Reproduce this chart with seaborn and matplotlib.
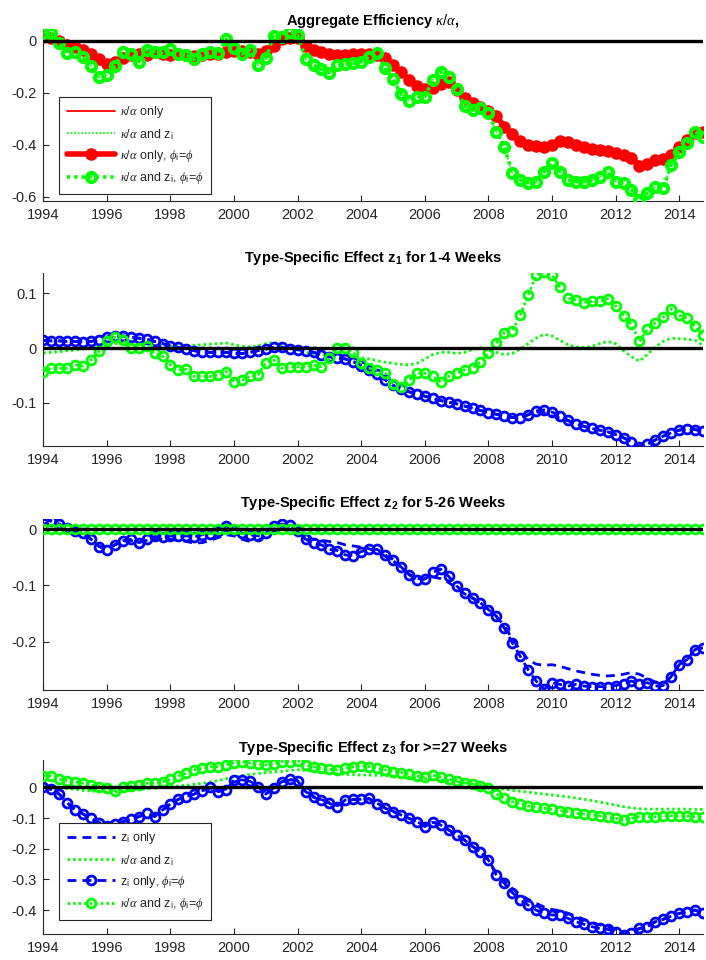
import numpy as np
import pandas as pd
import matplotlib
matplotlib.use("Agg")
import matplotlib.pyplot as plt
import seaborn as sns

sns.set_theme(style="white")
plt.rcParams["font.family"] = ["Liberation Sans", "DejaVu Sans"]
plt.rcParams["axes.unicode_minus"] = False
plt.rcParams["mathtext.fontset"] = "custom"
plt.rcParams["mathtext.it"] = "Liberation Serif:italic"
plt.rcParams["mathtext.rm"] = "Liberation Sans"
plt.rcParams["mathtext.bf"] = "Liberation Sans:bold"

# quarterly observations, 1994Q1 - 2014Q4
quarters = np.arange(1994, 2015, 0.25)

# ---- Aggregate efficiency kappa/alpha ----
agg_kappa_only = [
    0.015, 0.010, 0.000, -0.015,
    -0.025, -0.035, -0.050, -0.070,
    -0.088, -0.080, -0.065, -0.055,
    -0.050, -0.055, -0.045, -0.050,
    -0.055, -0.050, -0.055, -0.060,
    -0.055, -0.050, -0.050, -0.045,
    -0.040, -0.040, -0.045, -0.050,
    -0.040, -0.020, 0.005, 0.010,
    0.012, -0.020, -0.035, -0.045,
    -0.050, -0.055, -0.055, -0.050,
    -0.050, -0.050, -0.055, -0.065,
    -0.095, -0.120, -0.150, -0.175,
    -0.185, -0.180, -0.165, -0.160,
    -0.190, -0.220, -0.240, -0.255,
    -0.270, -0.290, -0.330, -0.360,
    -0.385, -0.400, -0.405, -0.410,
    -0.400, -0.385, -0.390, -0.400,
    -0.410, -0.415, -0.420, -0.425,
    -0.430, -0.440, -0.450, -0.480,
    -0.475, -0.460, -0.455, -0.440,
    -0.410, -0.380, -0.355, -0.350,
]
agg_kappa_z = [
    0.028, 0.028, -0.010, -0.046,
    -0.042, -0.064, -0.097, -0.141,
    -0.132, -0.097, -0.045, -0.051,
    -0.081, -0.036, -0.042, -0.045,
    -0.033, -0.051, -0.055, -0.072,
    -0.051, -0.042, -0.049, 0.005,
    -0.029, -0.051, -0.036, -0.094,
    -0.068, 0.018, 0.015, 0.035,
    0.022, -0.072, -0.094, -0.110,
    -0.123, -0.094, -0.090, -0.087,
    -0.081, -0.062, -0.049, -0.106,
    -0.149, -0.205, -0.231, -0.215,
    -0.215, -0.151, -0.119, -0.141,
    -0.187, -0.251, -0.267, -0.260,
    -0.279, -0.350, -0.408, -0.510,
    -0.536, -0.546, -0.542, -0.504,
    -0.472, -0.504, -0.536, -0.542,
    -0.542, -0.536, -0.523, -0.504,
    -0.542, -0.549, -0.574, -0.612,
    -0.587, -0.562, -0.568, -0.478,
    -0.427, -0.395, -0.350, -0.369,
]
agg_kappa_only_phi = agg_kappa_only
agg_kappa_z_phi = agg_kappa_z

# ---- z1: 1-4 weeks ----
z1_only = [
    0.014, 0.013, 0.013, 0.012,
    0.012, 0.011, 0.012, 0.015,
    0.020, 0.022, 0.022, 0.020,
    0.018, 0.016, 0.012, 0.008,
    0.004, 0.001, -0.002, -0.005,
    -0.007, -0.008, -0.008, -0.008,
    -0.010, -0.010, -0.008, -0.005,
    -0.002, 0.001, 0.001, -0.001,
    -0.003, -0.005, -0.008, -0.012,
    -0.016, -0.018, -0.020, -0.025,
    -0.032, -0.040, -0.048, -0.058,
    -0.068, -0.075, -0.080, -0.084,
    -0.088, -0.092, -0.096, -0.099,
    -0.102, -0.106, -0.110, -0.114,
    -0.118, -0.121, -0.124, -0.127,
    -0.127, -0.122, -0.117, -0.118,
    -0.124, -0.128, -0.133, -0.138,
    -0.143, -0.147, -0.150, -0.153,
    -0.158, -0.164, -0.171, -0.180,
    -0.176, -0.168, -0.161, -0.155,
    -0.150, -0.148, -0.149, -0.152,
]
z1_kappa_z = [
    -0.009, -0.008, -0.007, -0.005,
    -0.004, -0.002, 0.000, 0.003,
    0.006, 0.008, 0.009, 0.008,
    0.007, 0.006, 0.005, 0.004,
    0.003, 0.003, 0.004, 0.005,
    0.006, 0.007, 0.008, 0.009,
    0.006, 0.003, 0.002, 0.004,
    0.008, 0.010, 0.006, 0.001,
    -0.004, -0.008, -0.010, -0.012,
    -0.012, -0.011, -0.012, -0.015,
    -0.018, -0.020, -0.023, -0.026,
    -0.028, -0.030, -0.031, -0.028,
    -0.020, -0.012, -0.008, -0.008,
    -0.010, -0.008, -0.003, 0.000,
    -0.002, -0.008, -0.012, -0.010,
    -0.002, 0.008, 0.018, 0.025,
    0.022, 0.014, 0.006, 0.002,
    0.001, 0.003, 0.008, 0.012,
    0.008, -0.005, -0.016, -0.024,
    -0.012, 0.002, 0.012, 0.018,
    0.017, 0.016, 0.014, 0.005,
]
z1_only_phi = [
    0.014, 0.013, 0.013, 0.012,
    0.012, 0.011, 0.012, 0.015,
    0.020, 0.022, 0.022, 0.020,
    0.018, 0.016, 0.012, 0.008,
    0.004, 0.001, -0.002, -0.005,
    -0.007, -0.008, -0.008, -0.008,
    -0.010, -0.010, -0.008, -0.005,
    -0.002, 0.001, 0.001, -0.001,
    -0.003, -0.005, -0.008, -0.012,
    -0.016, -0.018, -0.020, -0.025,
    -0.032, -0.040, -0.048, -0.058,
    -0.068, -0.075, -0.080, -0.084,
    -0.088, -0.092, -0.096, -0.099,
    -0.102, -0.106, -0.110, -0.114,
    -0.118, -0.121, -0.124, -0.127,
    -0.127, -0.122, -0.115, -0.113,
    -0.117, -0.124, -0.132, -0.138,
    -0.143, -0.147, -0.150, -0.153,
    -0.158, -0.164, -0.171, -0.180,
    -0.176, -0.168, -0.161, -0.155,
    -0.150, -0.148, -0.149, -0.152,
]
z1_kappa_z_phi = [
    -0.043, -0.037, -0.037, -0.037,
    -0.031, -0.033, -0.022, -0.006,
    0.012, 0.020, 0.015, 0.000,
    0.000, 0.003, -0.010, -0.015,
    -0.031, -0.040, -0.039, -0.052,
    -0.052, -0.052, -0.049, -0.043,
    -0.062, -0.059, -0.052, -0.049,
    -0.027, -0.022, -0.037, -0.034,
    -0.034, -0.034, -0.031, -0.034,
    -0.019, 0.000, 0.000, -0.008,
    -0.028, -0.037, -0.040, -0.046,
    -0.065, -0.071, -0.059, -0.046,
    -0.046, -0.052, -0.062, -0.052,
    -0.046, -0.040, -0.037, -0.025,
    -0.009, 0.009, 0.028, 0.031,
    0.060, 0.096, 0.133, 0.139,
    0.133, 0.111, 0.091, 0.088,
    0.083, 0.085, 0.085, 0.090,
    0.077, 0.059, 0.043, 0.012,
    0.034, 0.046, 0.056, 0.071,
    0.060, 0.054, 0.040, 0.023,
]

# ---- z2: 5-26 weeks ----
z2_only = [
    0.018, 0.014, 0.008, 0.001,
    -0.005, -0.009, -0.018, -0.030,
    -0.035, -0.028, -0.022, -0.020,
    -0.024, -0.020, -0.017, -0.018,
    -0.018, -0.020, -0.022, -0.025,
    -0.024, -0.020, -0.015, -0.010,
    -0.012, -0.018, -0.022, -0.020,
    -0.012, 0.000, 0.006, 0.005,
    -0.006, -0.015, -0.018, -0.020,
    -0.022, -0.024, -0.028, -0.030,
    -0.032, -0.035, -0.040, -0.048,
    -0.056, -0.068, -0.080, -0.088,
    -0.088, -0.085, -0.088, -0.095,
    -0.105, -0.115, -0.123, -0.132,
    -0.143, -0.155, -0.172, -0.195,
    -0.215, -0.232, -0.240, -0.242,
    -0.241, -0.244, -0.248, -0.252,
    -0.255, -0.258, -0.260, -0.261,
    -0.260, -0.258, -0.255, -0.258,
    -0.265, -0.272, -0.275, -0.262,
    -0.241, -0.232, -0.214, -0.211,
]
z2_kappa_z = [0.0] * 84
z2_only_phi = [
    0.018, 0.015, 0.009, 0.002,
    -0.004, -0.007, -0.018, -0.031,
    -0.037, -0.028, -0.021, -0.018,
    -0.024, -0.018, -0.013, -0.014,
    -0.012, -0.013, -0.012, -0.014,
    -0.010, -0.008, -0.004, 0.006,
    -0.001, -0.007, -0.010, -0.012,
    -0.007, 0.005, 0.009, 0.008,
    -0.004, -0.018, -0.025, -0.028,
    -0.036, -0.038, -0.046, -0.047,
    -0.040, -0.036, -0.036, -0.046,
    -0.054, -0.067, -0.081, -0.090,
    -0.089, -0.077, -0.071, -0.084,
    -0.101, -0.114, -0.122, -0.131,
    -0.143, -0.155, -0.176, -0.202,
    -0.226, -0.250, -0.270, -0.285,
    -0.273, -0.276, -0.279, -0.276,
    -0.279, -0.280, -0.280, -0.280,
    -0.278, -0.275, -0.270, -0.275,
    -0.273, -0.279, -0.278, -0.262,
    -0.241, -0.232, -0.214, -0.211,
]
z2_kappa_z_phi = [0.0] * 84

# ---- z3: 27+ weeks ----
z3_only = [
    0.000, -0.007, -0.022, -0.050,
    -0.074, -0.087, -0.101, -0.115,
    -0.125, -0.120, -0.112, -0.104,
    -0.096, -0.088, -0.090, -0.074,
    -0.054, -0.039, -0.030, -0.022,
    -0.011, -0.003, -0.010, -0.006,
    0.018, 0.022, 0.020, 0.004,
    -0.016, -0.002, 0.016, 0.024,
    0.020, -0.012, -0.030, -0.040,
    -0.050, -0.060, -0.044, -0.040,
    -0.039, -0.038, -0.052, -0.066,
    -0.078, -0.090, -0.101, -0.112,
    -0.125, -0.114, -0.123, -0.139,
    -0.155, -0.172, -0.193, -0.210,
    -0.237, -0.280, -0.305, -0.330,
    -0.350, -0.365, -0.378, -0.390,
    -0.398, -0.402, -0.410, -0.420,
    -0.430, -0.440, -0.448, -0.455,
    -0.465, -0.478, -0.472, -0.460,
    -0.454, -0.438, -0.430, -0.420,
    -0.411, -0.405, -0.400, -0.411,
]
z3_kappa_z = [
    0.005, 0.002, -0.001, -0.004,
    -0.007, -0.010, -0.012, -0.014,
    -0.015, -0.015, -0.013, -0.010,
    -0.007, -0.004, -0.002, 0.000,
    0.002, 0.004, 0.007, 0.010,
    0.013, 0.017, 0.022, 0.028,
    0.034, 0.038, 0.042, 0.045,
    0.048, 0.050, 0.052, 0.055,
    0.057, 0.055, 0.052, 0.049,
    0.046, 0.044, 0.042, 0.041,
    0.040, 0.040, 0.039, 0.038,
    0.037, 0.035, 0.033, 0.031,
    0.028, 0.026, 0.024, 0.021,
    0.018, 0.014, 0.010, 0.006,
    0.002, -0.002, -0.006, -0.010,
    -0.013, -0.016, -0.019, -0.022,
    -0.025, -0.028, -0.031, -0.035,
    -0.039, -0.043, -0.048, -0.053,
    -0.058, -0.063, -0.067, -0.070,
    -0.071, -0.071, -0.071, -0.071,
    -0.071, -0.071, -0.072, -0.072,
]
z3_only_phi = [
    0.000, -0.007, -0.022, -0.050,
    -0.074, -0.087, -0.101, -0.115,
    -0.125, -0.120, -0.112, -0.104,
    -0.096, -0.085, -0.096, -0.074,
    -0.054, -0.039, -0.030, -0.022,
    -0.011, 0.000, -0.014, -0.009,
    0.024, 0.024, 0.022, 0.002,
    -0.022, -0.003, 0.018, 0.026,
    0.022, -0.014, -0.033, -0.041,
    -0.052, -0.065, -0.041, -0.039,
    -0.039, -0.036, -0.054, -0.068,
    -0.079, -0.090, -0.101, -0.112,
    -0.128, -0.112, -0.123, -0.139,
    -0.155, -0.172, -0.193, -0.210,
    -0.237, -0.286, -0.313, -0.343,
    -0.367, -0.384, -0.400, -0.411,
    -0.416, -0.416, -0.427, -0.438,
    -0.446, -0.454, -0.460, -0.463,
    -0.471, -0.482, -0.474, -0.460,
    -0.454, -0.438, -0.430, -0.420,
    -0.411, -0.405, -0.400, -0.411,
]
z3_kappa_z_phi = [
    0.037, 0.037, 0.026, 0.022,
    0.018, 0.013, 0.008, 0.002,
    -0.003, -0.011, 0.000, 0.004,
    0.008, 0.013, 0.015, 0.018,
    0.026, 0.037, 0.046, 0.057,
    0.062, 0.067, 0.067, 0.073,
    0.080, 0.084, 0.080, 0.076,
    0.073, 0.076, 0.084, 0.084,
    0.087, 0.073, 0.067, 0.062,
    0.059, 0.057, 0.062, 0.067,
    0.070, 0.067, 0.062, 0.057,
    0.051, 0.048, 0.043, 0.037,
    0.033, 0.040, 0.033, 0.026,
    0.022, 0.015, 0.011, 0.004,
    -0.003, -0.022, -0.036, -0.047,
    -0.054, -0.061, -0.065, -0.068,
    -0.072, -0.076, -0.079, -0.085,
    -0.087, -0.090, -0.093, -0.098,
    -0.101, -0.107, -0.101, -0.096,
    -0.096, -0.096, -0.093, -0.093,
    -0.093, -0.093, -0.096, -0.096,
]

year_ticks = list(range(1994, 2015, 2))

titles = [
    r"Aggregate Efficiency $\kappa/\alpha$,",
    r"Type-Specific Effect z$_\mathbf{1}$ for 1-4 Weeks",
    r"Type-Specific Effect z$_\mathbf{2}$ for 5-26 Weeks",
    r"Type-Specific Effect z$_\mathbf{3}$ for >=27 Weeks",
]
legend_agg = [
    r"$\kappa/\alpha$ only",
    r"$\kappa/\alpha$ and z$_\mathrm{i}$",
    r"$\kappa/\alpha$ only, $\phi_\mathrm{i}$=$\phi$",
    r"$\kappa/\alpha$ and z$_\mathrm{i}$, $\phi_\mathrm{i}$=$\phi$",
]
legend_type = [
    r"z$_\mathrm{i}$ only",
    r"$\kappa/\alpha$ and z$_\mathrm{i}$",
    r"z$_\mathrm{i}$ only, $\phi_\mathrm{i}$=$\phi$",
    r"$\kappa/\alpha$ and z$_\mathrm{i}$, $\phi_\mathrm{i}$=$\phi$",
]

df = pd.DataFrame({
    "t": quarters,
    "agg_a": agg_kappa_only, "agg_b": agg_kappa_z,
    "agg_c": agg_kappa_only_phi, "agg_d": agg_kappa_z_phi,
    "z1_a": z1_only, "z1_b": z1_kappa_z, "z1_c": z1_only_phi, "z1_d": z1_kappa_z_phi,
    "z2_a": z2_only, "z2_b": z2_kappa_z, "z2_c": z2_only_phi, "z2_d": z2_kappa_z_phi,
    "z3_a": z3_only, "z3_b": z3_kappa_z, "z3_c": z3_only_phi, "z3_d": z3_kappa_z_phi,
})

RED, GREEN, BLUE = "#ff0000", "#00ff00", "#0000ff"
INK = "#262626"
DASH = (0, (3.2, 2.2))
DOT = (0, (0.9, 1.1))

W, H = 706, 960
fig = plt.figure(figsize=(W / 100, H / 100), dpi=100)

# panel frames in pixels: (top, bottom), ylim, yticks, title baseline
panels = [
    (29, 201, (-0.6165, 0.045), [-0.6, -0.4, -0.2, 0], 25),
    (273, 446, (-0.179, 0.137), [-0.1, 0, 0.1], 262),
    (519, 690, (-0.286, 0.018), [-0.2, -0.1, 0], 507),
    (760, 934, (-0.478, 0.089), [-0.4, -0.3, -0.2, -0.1, 0], 752),
]
x_left, x_right = 43.3, 703.0

axes = []
for i, (top, bot, ylim, yt, tb) in enumerate(panels):
    ax = fig.add_axes([x_left / W, 1 - bot / H, (x_right - x_left) / W, (bot - top) / H])
    axes.append(ax)


def draw(ax, col, **kw):
    sns.lineplot(data=df, x="t", y=col, ax=ax, sort=False, estimator=None, **kw)
    return ax.lines[-1]


# aggregate panel
ax = axes[0]
h = []
h.append(draw(ax, "agg_a", color=RED, linewidth=1.3, zorder=2))
h.append(draw(ax, "agg_b", color=GREEN, linewidth=1.3, linestyle=DOT, zorder=2))
h.append(draw(ax, "agg_c", color=RED, linewidth=4.0, marker="o", markersize=8.0,
              markerfacecolor=RED, markeredgecolor=RED, markeredgewidth=1.0, zorder=3))
h.append(draw(ax, "agg_d", color=GREEN, linewidth=2.6, linestyle=DOT, marker="o",
              markersize=6.6, markerfacecolor="none", markeredgecolor=GREEN,
              markeredgewidth=2.9, zorder=4))
handles_agg = h

# type-specific panels
handles_type = None
for k, key in enumerate(["z1", "z2", "z3"]):
    ax = axes[k + 1]
    h = []
    h.append(draw(ax, f"{key}_a", color=BLUE, linewidth=2.0, linestyle=DASH, zorder=2))
    h.append(draw(ax, f"{key}_b", color=GREEN, linewidth=2.0, linestyle=DOT, zorder=2))
    h.append(draw(ax, f"{key}_c", color=BLUE, linewidth=2.0, linestyle=DASH, marker="o",
                  markersize=6.4, markerfacecolor="none", markeredgecolor=BLUE,
                  markeredgewidth=2.0, zorder=3))
    h.append(draw(ax, f"{key}_d", color=GREEN, linewidth=2.0, linestyle=DOT, marker="o",
                  markersize=6.4, markerfacecolor="none", markeredgecolor=GREEN,
                  markeredgewidth=2.0, zorder=4))
    handles_type = h

for ax, (top, bot, ylim, yt, tb), title in zip(axes, panels, titles):
    ax.axhline(0, color="black", linewidth=2.4, zorder=5)
    ax.set_xlim(1994, 2014.75)
    ax.set_ylim(*ylim)
    ax.set_xticks(year_ticks)
    ax.set_xticklabels([str(y) for y in year_ticks])
    ax.set_yticks(yt)
    ax.set_yticklabels(["0" if v == 0 else f"{v:g}" for v in yt])
    ax.set_xlabel("")
    ax.set_ylabel("")
    ax.grid(False)
    ax.set_facecolor("white")
    for s in ["top", "right"]:
        ax.spines[s].set_visible(False)
    for s in ["left", "bottom"]:
        ax.spines[s].set_color(INK)
        ax.spines[s].set_linewidth(0.8)
    ax.tick_params(direction="in", length=4, width=0.8, color=INK, labelcolor=INK,
                   labelsize=10.5, pad=5, bottom=True, left=True)
    ax.set_title(title, fontsize=10.5, fontweight="bold", color="black",
                 pad=(top - tb) * 0.72)

leg_kw = dict(loc="upper left", fontsize=9, frameon=True, fancybox=False,
              edgecolor=INK, framealpha=1.0, handlelength=3.9, handletextpad=0.4,
              labelspacing=0.5, borderpad=0.6, borderaxespad=0, numpoints=1)
leg1 = axes[0].legend(handles=handles_agg, labels=legend_agg,
                      bbox_to_anchor=(59 / W, 1 - 97 / H),
                      bbox_transform=fig.transFigure, **leg_kw)
leg1.get_frame().set_linewidth(0.8)
leg1.set_zorder(10)
leg4 = axes[3].legend(handles=handles_type, labels=legend_type,
                      bbox_to_anchor=(59 / W, 1 - 823 / H),
                      bbox_transform=fig.transFigure, **leg_kw)
leg4.get_frame().set_linewidth(0.8)
leg4.set_zorder(10)

fig.savefig("out.png", dpi=100, facecolor="white")
